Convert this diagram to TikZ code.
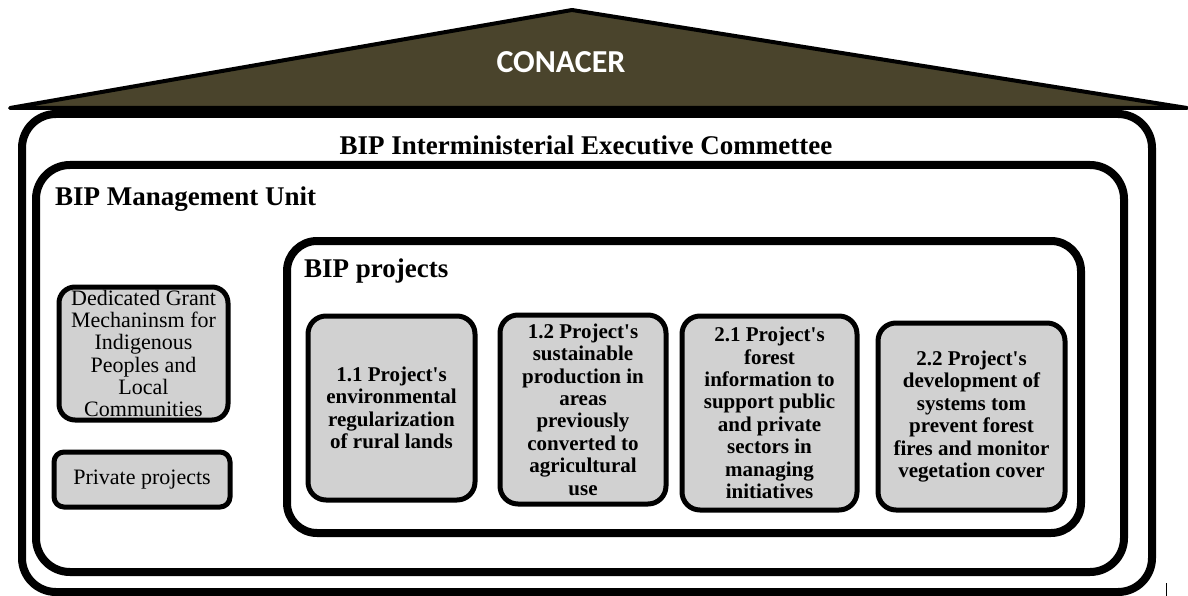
\documentclass[tikz,border=0pt]{standalone}
\usepackage{fontspec}
\setmainfont{Liberation Serif}
\newfontfamily\rooffont{Carlito}
\usetikzlibrary{positioning}
\definecolor{roof}{RGB}{74, 68, 44}
\definecolor{boxgray}{RGB}{209, 209, 209}
\newcommand{\apos}{\textquotesingle}
\tikzset{
    frame/.style={draw, line width=8pt, rounded corners=34pt},
    headline/.style={font=\bfseries\fontsize{27}{30}\selectfont, inner sep=0pt},
    projbox/.style={draw, line width=5pt, fill=boxgray, rounded corners=18pt, align=center, inner sep=0pt, font=\bfseries\fontsize{21}{22.4}\selectfont},
    otherbox/.style={draw, line width=5pt, fill=boxgray, rounded corners=16pt, align=center, inner sep=0pt, font=\fontsize{22}{22.2}\selectfont}
}

\begin{document}
\begin{tikzpicture}[x=1pt, y=-1pt]

    \useasboundingbox (0,0) rectangle (1188,596);

    % roof
    \draw[line width=4pt, line join=round, fill=roof] (10,108) -- (572,10) -- (1187,108) -- cycle;
    \node[font=\rooffont\bfseries\fontsize{32}{36}\selectfont, text=white, anchor=base, inner sep=0pt] (conacer) at (561,73) {CONACER};

    % nested frames
    \draw[frame, fill=white] (22,114) rectangle (1152,592);
    \draw[frame] (36,165) rectangle (1124,572);
    \draw[frame, rounded corners=30pt] (287,241) rectangle (1081,533);

    \node[headline, anchor=base] (iec) at (586,155) {BIP Interministerial Executive Commettee};
    \node[headline, anchor=base west] (unit) at (55,205) {BIP Management Unit};
    \node[headline, anchor=base west] (bip) at (304,277) {BIP projects};

    % left column
    \node[otherbox, minimum width=169pt, minimum height=133pt] (grant) at (143.5,353.5) {Dedicated Grant\\Mechaninsm for\\Indigenous\\Peoples and\\Local\\Communities};
    \node[otherbox, rounded corners=10pt, minimum width=176pt, minimum height=55pt] (private) at (142,479.5) {Private projects};

    % projects
    \node[projbox, minimum width=167pt, minimum height=184pt] (p11) at (391.5,408) {1.1 Project\apos s\\environmental\\regularization\\of rural lands};
    \node[projbox, minimum width=166pt, minimum height=189pt] (p12) at (583,409.5) {1.2 Project\apos s\\sustainable\\production in\\areas\\previously\\converted to\\agricultural\\use};
    \node[projbox, minimum width=175pt, minimum height=194pt] (p21) at (769.5,413) {2.1 Project\apos s\\forest\\information to\\support public\\and private\\sectors in\\managing\\initiatives};
    \node[projbox, minimum width=187pt, minimum height=187pt] (p22) at (971.5,416.5) {2.2 Project\apos s\\development of\\systems tom\\prevent forest\\fires and monitor\\vegetation cover};

    \draw[line width=1pt] (1166,583) -- (1166,596);

\end{tikzpicture}
\end{document}
